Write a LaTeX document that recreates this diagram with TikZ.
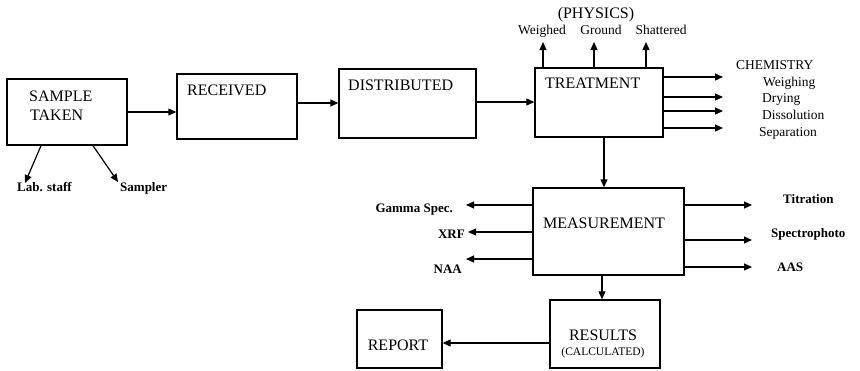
\documentclass[tikz,border=0pt]{standalone}
\usepackage{fontspec}
\setmainfont{Liberation Serif}
\usetikzlibrary{arrows.meta}
\begin{document}
\begin{tikzpicture}[x=1pt,y=-1pt,
  box/.style={draw,line width=1.4pt,inner sep=0pt},
  arr/.style={line width=1.2pt,-{Triangle[length=8pt,width=7pt]}},
  big/.style={font=\fontsize{16}{19}\selectfont,inner sep=0pt},
  small/.style={font=\fontsize{13.5}{16}\selectfont,inner sep=0pt},
  smallb/.style={font=\fontsize{13}{16}\selectfont\bfseries,inner sep=0pt}]
\useasboundingbox (0,0) rectangle (860,370);
% boxes
\node[box,minimum width=120pt,minimum height=66pt] (st) at (67,112) {};
\node[box,minimum width=120pt,minimum height=65pt] (rc) at (237,106.5) {};
\node[box,minimum width=137pt,minimum height=69pt] (ds) at (407.5,103.5) {};
\node[box,minimum width=128pt,minimum height=69pt] (tr) at (599,102.5) {};
\node[box,minimum width=151pt,minimum height=87pt] (ms) at (608.5,231.5) {};
\node[box,minimum width=110pt,minimum height=68pt] (rs) at (605,334) {};
\node[box,minimum width=85pt,minimum height=58pt] (rp) at (399.5,339) {};
% box texts
\node[big,anchor=base west] (t1) at (29,101) {SAMPLE};
\node[big,anchor=base west] (t2) at (30,120) {TAKEN};
\node[big,anchor=base west] (t3) at (187,95) {RECEIVED};
\node[big,anchor=base west] (t4) at (348,90) {DISTRIBUTED};
\node[big,anchor=base west] (t5) at (545,88) {TREATMENT};
\node[big,anchor=base] (t6) at (604,228) {MEASUREMENT};
\node[big,anchor=base] (t7) at (603,340) {RESULTS};
\node[font=\fontsize{11.5}{13}\selectfont,inner sep=0pt,anchor=base] (t8) at (603,355) {(CALCULATED)};
\node[big,anchor=base] (t9) at (398,350) {REPORT};
% physics
\node[big,anchor=base] (ph) at (596,18) {(PHYSICS)};
\node[small,anchor=base] (wg) at (542,34) {Weighed};
\node[small,anchor=base] (gr) at (601,34) {Ground};
\node[small,anchor=base] (sh) at (661,34) {Shattered};
% chemistry
\node[small,anchor=base west] (ch) at (736,69) {CHEMISTRY};
\node[small,anchor=base west] (c1) at (763,86) {Weighing};
\node[small,anchor=base west] (c2) at (762,102) {Drying};
\node[small,anchor=base west] (c3) at (762,119) {Dissolution};
\node[small,anchor=base west] (c4) at (759,136) {Separation};
% measurement labels
\node[smallb,anchor=base east] (m1) at (453,212) {Gamma Spec.};
\node[smallb,anchor=base east] (m2) at (465,238) {XRF};
\node[smallb,anchor=base east] (m3) at (462,273) {NAA};
\node[smallb,anchor=base west] (m4) at (783,203) {Titration};
\node[smallb,anchor=base west] (m5) at (771,237) {Spectrophoto};
\node[smallb,anchor=base west] (m6) at (777,271) {AAS};
% sample labels
\node[smallb,anchor=base west] (l1) at (17,191) {Lab. staff};
\node[smallb,anchor=base west] (l2) at (120,191) {Sampler};
% main flow
\draw[arr] (st.east) -- (st.east -| rc.west);
\draw[arr] (rc.east |- 0,103) -- (ds.west |- 0,103);
\draw[arr] (ds.east |- 0,102) -- (tr.west |- 0,102);
\draw[arr] (tr.south -| 604,0) -- (ms.north -| 604,0);
\draw[arr] (ms.south -| 602,0) -- (rs.north -| 602,0);
\draw[arr] (rs.west |- 0,343) -- (rp.east |- 0,343);
% sample taken branches
\draw[arr] (st.south -| 41,0) -- (25,183);
\draw[arr] (st.south -| 93,0) -- (118,182);
% physics arrows
\draw[arr] (tr.north -| 543,0) -- (543,42);
\draw[arr] (tr.north -| 594,0) -- (594,42);
\draw[arr] (tr.north -| 646,0) -- (646,42);
% chemistry arrows
\draw[arr] (tr.east |- 0,77) -- (723,77);
\draw[arr] (tr.east |- 0,97) -- (723,97);
\draw[arr] (tr.east |- 0,111) -- (723,111);
\draw[arr] (tr.east |- 0,128) -- (723,128);
% measurement arrows
\draw[arr] (ms.west |- 0,205) -- (466,205);
\draw[arr] (ms.west |- 0,232) -- (468,232);
\draw[arr] (ms.west |- 0,259) -- (466,259);
\draw[arr] (ms.east |- 0,205) -- (752,205);
\draw[arr] (ms.east |- 0,240) -- (752,240);
\draw[arr] (ms.east |- 0,267) -- (752,267);
\end{tikzpicture}
\end{document}
